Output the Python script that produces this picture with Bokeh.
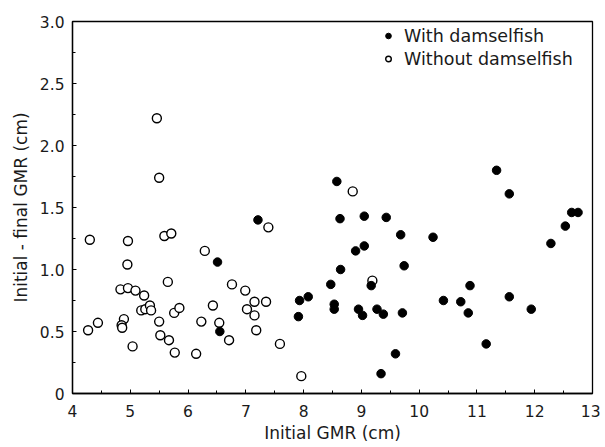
from bokeh.plotting import figure
from bokeh.models import Legend, LegendItem, Range1d, FixedTicker
from bokeh.embed import file_html
from bokeh.resources import INLINE

# With damselfish (filled)
with_x = [7.21, 6.51, 6.55, 7.93, 7.91, 8.08, 8.575, 8.63, 8.64, 8.47, 8.53, 8.53,
          8.90, 9.05, 9.05, 8.95, 9.02, 9.17, 9.27, 9.38, 9.43, 9.59, 9.34, 9.68,
          9.74, 9.71, 10.24, 10.42, 10.72, 10.88, 10.85, 11.16, 11.34, 11.56, 11.56,
          11.94, 12.28, 12.53, 12.64, 12.75]
with_y = [1.40, 1.06, 0.50, 0.75, 0.62, 0.78, 1.71, 1.41, 1.00, 0.88, 0.72, 0.68,
          1.15, 1.19, 1.43, 0.68, 0.63, 0.87, 0.68, 0.64, 1.42, 0.32, 0.16, 1.28,
          1.03, 0.65, 1.26, 0.75, 0.74, 0.87, 0.65, 0.40, 1.80, 1.61, 0.78,
          0.68, 1.21, 1.35, 1.46, 1.46]

# Without damselfish (open)
without_x = [4.30, 4.27, 4.44, 4.96, 4.95, 4.83, 4.96, 5.09, 5.24, 4.89, 4.85, 4.86,
             5.04, 5.19, 5.26, 5.34, 5.36, 5.50, 5.52, 5.59, 5.71, 5.65, 5.67, 5.76,
             5.85, 5.77, 6.14, 6.23, 6.29, 6.43, 6.54, 6.71, 6.76, 6.99, 7.02, 7.15,
             7.15, 7.18, 7.35, 7.39, 7.59, 7.96, 5.46, 5.50, 8.85, 9.19]
without_y = [1.24, 0.51, 0.57, 1.23, 1.04, 0.84, 0.85, 0.83, 0.79, 0.60, 0.55, 0.53,
             0.38, 0.67, 0.68, 0.71, 0.67, 0.58, 0.47, 1.27, 1.29, 0.90, 0.43, 0.65,
             0.69, 0.33, 0.32, 0.58, 1.15, 0.71, 0.57, 0.43, 0.88, 0.83, 0.68, 0.74,
             0.63, 0.51, 0.74, 1.34, 0.40, 0.14, 2.22, 1.74, 1.63, 0.91]

x_ticks = [4, 5, 6, 7, 8, 9, 10, 11, 12, 13]
y_ticks = [0, 0.5, 1.0, 1.5, 2.0, 2.5, 3.0]
y_tick_labels = {0: "0", 0.5: "0.5", 1.0: "1.0", 1.5: "1.5", 2.0: "2.0", 2.5: "2.5", 3.0: "3.0"}

FONT = "DejaVu Sans"

p = figure(width=600, height=447, output_backend="svg", toolbar_location=None,
           x_range=Range1d(4, 13), y_range=Range1d(0, 3.0),
           min_border_left=72, min_border_right=8, min_border_top=21, min_border_bottom=54)

p.grid.visible = False
p.outline_line_color = "black"
p.outline_line_width = 1.3

p.xaxis.ticker = FixedTicker(ticks=x_ticks, minor_ticks=[x + 0.5 for x in x_ticks[:-1]])
p.yaxis.ticker = FixedTicker(ticks=y_ticks, minor_ticks=[y + 0.25 for y in y_ticks[:-1]])
p.yaxis.major_label_overrides = y_tick_labels

for ax in (p.xaxis, p.yaxis):
    ax.axis_line_color = "black"
    ax.axis_line_width = 1.3
    ax.major_tick_in = 4
    ax.major_tick_out = 0
    ax.minor_tick_in = 3
    ax.minor_tick_out = 0
    ax.major_tick_line_color = "black"
    ax.minor_tick_line_color = "black"
    ax.major_label_text_font = FONT
    ax.major_label_text_font_size = "15.5px"
    ax.major_label_text_color = "#1a1a1a"
    ax.axis_label_text_font = FONT
    ax.axis_label_text_font_size = "17px"
    ax.axis_label_text_font_style = "normal"
    ax.axis_label_text_color = "#1a1a1a"

p.xaxis.major_label_standoff = 11
p.yaxis.major_label_standoff = 8
p.xaxis.axis_label = "Initial GMR (cm)"
p.yaxis.axis_label = "Initial - final GMR (cm)"
p.xaxis.axis_label_standoff = 3
p.yaxis.axis_label_standoff = 6

r_open = p.scatter(without_x, without_y, size=9, marker="circle",
                   fill_color="white", line_color="black", line_width=1.4)
r_fill = p.scatter(with_x, with_y, size=8.5, marker="circle",
                   fill_color="black", line_color="black", line_width=1)

legend = Legend(items=[LegendItem(label="With damselfish", renderers=[r_fill]),
                       LegendItem(label="Without damselfish", renderers=[r_open])],
                location=(309, 323))
legend.border_line_color = None
legend.background_fill_alpha = 0
legend.padding = 0
legend.margin = 0
legend.spacing = 0
legend.glyph_width = 14
legend.glyph_height = 23
legend.label_height = 23
legend.label_standoff = 9
legend.label_text_font = FONT
legend.label_text_font_size = "17.5px"
legend.label_text_color = "#1a1a1a"
p.add_layout(legend)

open("out.html", "w").write(file_html(p, INLINE))
